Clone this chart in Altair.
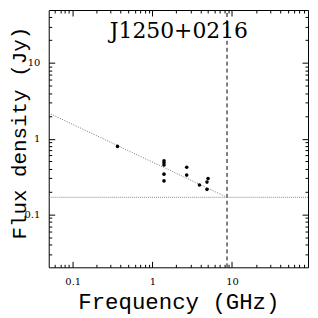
import altair as alt
import pandas as pd

# ---- data ----
freq = [0.365, 1.4, 1.4, 1.4, 1.4, 1.4, 2.7, 2.7, 3.9, 4.85, 5.0, 4.85]
flux = [0.79, 0.51, 0.48, 0.45, 0.34, 0.277, 0.42, 0.33, 0.244, 0.267, 0.297, 0.214]

fit_freq = [0.05, 8.66]
fit_flux = [2.18, 0.168]

limit_flux = 0.168          # horizontal dotted line
limit_freq = 8.66           # vertical dashed line

x_domain = [0.05, 90]
y_domain = [0.02, 50]

x_major = [0.1, 1, 10]
x_minor = [0.06, 0.07, 0.08, 0.09, 0.2, 0.3, 0.4, 0.5, 0.6, 0.7, 0.8, 0.9,
           2, 3, 4, 5, 6, 7, 8, 9, 20, 30, 40, 50, 60, 70, 80]
y_major = [0.1, 1, 10]
y_minor = [0.03, 0.04, 0.05, 0.06, 0.07, 0.08, 0.09, 0.2, 0.3, 0.4, 0.5, 0.6,
           0.7, 0.8, 0.9, 2, 3, 4, 5, 6, 7, 8, 9, 20, 30, 40]

source_name = "J1250+0216"
x_title = "Frequency (GHz)"
y_title = "Flux density (Jy)"

W, H = 261, 259
FONT = "DejaVu Serif"
TFONT = "Liberation Mono"

pts = pd.DataFrame({"freq": freq, "flux": flux})
fit = pd.DataFrame({"freq": fit_freq, "flux": fit_flux})
hline = pd.DataFrame({"freq": x_domain, "flux": [limit_flux, limit_flux]})
vline = pd.DataFrame({"freq": [limit_freq, limit_freq], "flux": y_domain})

xs = alt.Scale(type="log", domain=x_domain, nice=False)
ys = alt.Scale(type="log", domain=y_domain, nice=False)


def axis(orient, values, size, labels=False, **kw):
    return alt.Axis(orient=orient, values=values, tickSize=size, offset=-size,
                    domain=False, grid=False, labels=labels, tickColor="black",
                    tickWidth=1, labelFont=FONT, labelFontSize=10,
                    labelColor="black", format="~g", **kw)


xb_major = axis("bottom", x_major, 6, labels=True, labelPadding=9,
                title=x_title, titleFont=TFONT, titleFontSize=22.5,
                titleFontWeight="normal", titleColor="black",
                titleX=W / 2, titleY=47, titleAlign="center",
                titleBaseline="alphabetic")
yl_major = axis("left", y_major, 6, labels=True, labelPadding=9,
                title=y_title, titleFont=TFONT, titleFontSize=21,
                titleFontWeight="normal", titleColor="black",
                titleX=-29, titleY=123.5, titleAngle=270, titleAlign="center",
                titleBaseline="alphabetic")

points = alt.Chart(pts).mark_circle(size=13, color="black", opacity=1).encode(
    x=alt.X("freq:Q", scale=xs, axis=xb_major),
    y=alt.Y("flux:Q", scale=ys, axis=yl_major),
)

fit_line = alt.Chart(fit).mark_line(color="#777", strokeWidth=1,
                                     strokeDash=[1, 1.5]).encode(
    x=alt.X("freq:Q", scale=xs, axis=axis("top", x_major, 6, title=None)),
    y=alt.Y("flux:Q", scale=ys, axis=axis("right", y_major, 6, title=None)),
)

h_line = alt.Chart(hline).mark_line(color="#888", strokeWidth=1,
                                     strokeDash=[1, 1]).encode(
    x=alt.X("freq:Q", scale=xs, axis=axis("bottom", x_minor, 3, title=None)),
    y=alt.Y("flux:Q", scale=ys, axis=axis("left", y_minor, 3, title=None)),
)

v_line = alt.Chart(vline).mark_line(color="black", strokeWidth=1,
                                     strokeDash=[4, 3]).encode(
    x=alt.X("freq:Q", scale=xs, axis=axis("top", x_minor, 3, title=None)),
    y=alt.Y("flux:Q", scale=ys, axis=axis("right", y_minor, 3, title=None)),
)

label = alt.Chart(pd.DataFrame({"t": [source_name]})).mark_text(
    font=FONT, fontSize=22, color="black", align="center",
    baseline="alphabetic").encode(
    x=alt.value(W / 2 + 0.5), y=alt.value(28), text="t:N")

chart = alt.layer(v_line, h_line, fit_line, points, label).resolve_axis(
    x="independent", y="independent"
).properties(
    width=W, height=H,
    padding={"left": 41, "top": 1, "right": 2, "bottom": 50},
    autosize=alt.AutoSizeParams(type="none"),
).configure_view(stroke="black", strokeWidth=1)

chart.save("out.html", embed_options={"renderer": "svg", "actions": False})
